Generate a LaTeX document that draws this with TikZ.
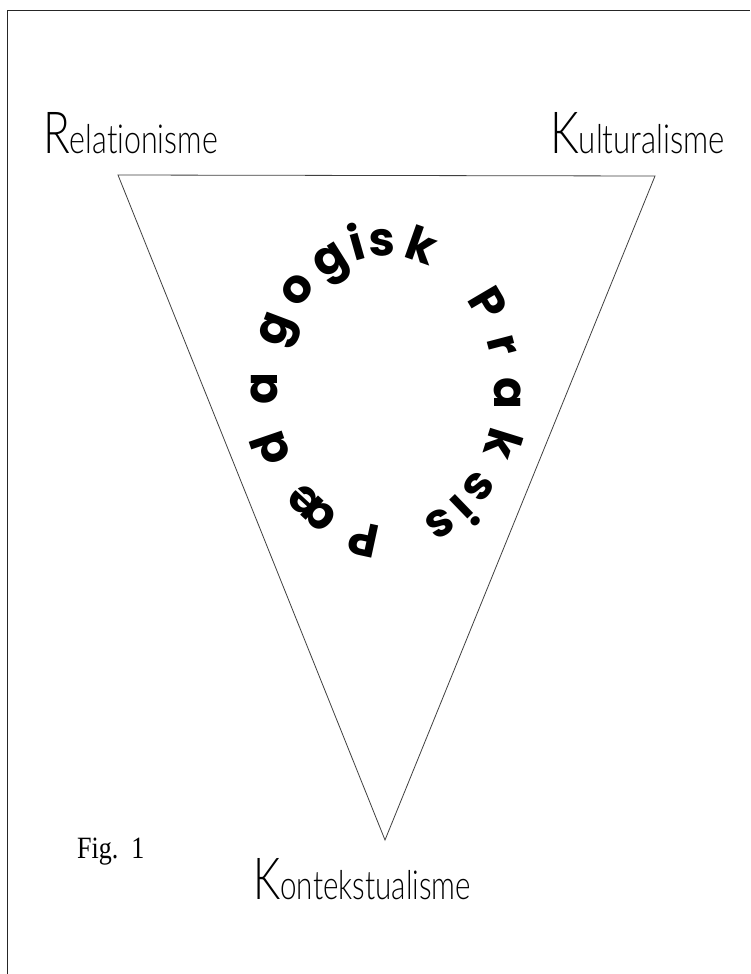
\documentclass[tikz,border=0pt]{standalone}
\usepackage{fontspec}
\setmainfont{Liberation Serif}
\newfontfamily\labelfont{Lato Light}[Ligatures=CommonOff]
\newfontfamily\circfont{Poppins}
\begin{document}
\begin{tikzpicture}[x=1pt,y=-1pt,
  framestyle/.style={line width=1.4pt,draw=black!85},
  tristyle/.style={line width=0.8pt,draw=black!75},
  labelstyle/.style={inner sep=0pt,anchor=base west,font=\labelfont},
  circletext/.style={inner sep=0pt,anchor=mid,font=\circfont\bfseries\fontsize{47}{47}\selectfont}]
\useasboundingbox (0,0) rectangle (750,974);
\fill[white] (0,0) rectangle (750,974);
% frame (cut at right and bottom)
\coordinate (fbl) at (7.5,974);
\coordinate (ftl) at (7.5,10.5);
\coordinate (ftr) at (750,10.5);
\draw[framestyle] (fbl) -- (ftl) -- (ftr);
% triangle
\coordinate (tl) at (118,175);
\coordinate (tr) at (655,176);
\coordinate (tb) at (385,840);
\draw[tristyle,line join=miter] (tl) -- (tr) -- (tb) -- cycle;
% labels
\node[labelstyle,xscale=0.76] (rel) at (43,153) {\fontsize{58}{58}\selectfont R\fontsize{40}{40}\selectfont elationisme};
\node[labelstyle,xscale=0.78] (kul) at (550,153) {\fontsize{58}{58}\selectfont K\fontsize{40}{40}\selectfont ulturalisme};
\node[labelstyle,xscale=0.74] (kon) at (253,899) {\fontsize{58}{58}\selectfont K\fontsize{40}{40}\selectfont ontekstualisme};
\node[inner sep=0pt,anchor=base west,font=\fontsize{31}{31}\selectfont,xscale=0.84] (fig) at (77,858) {Fig.\ \ 1};
% circular text
\foreach \ch/\t [count=\i] in {P/-100,æ/-127,d/-157,a/179,g/155,o/136,g/117,i/103,s/92,k/74,P/36,r/18,a/-1,k/-21,s/-41,i/-52,s/-64}
  \node[circletext,rotate={atan2(sin(\t)/137,cos(\t)/111)-90}] (c\i) at ({386+111*cos(\t)},{391-137*sin(\t)}) {\ch};
\end{tikzpicture}
\end{document}
